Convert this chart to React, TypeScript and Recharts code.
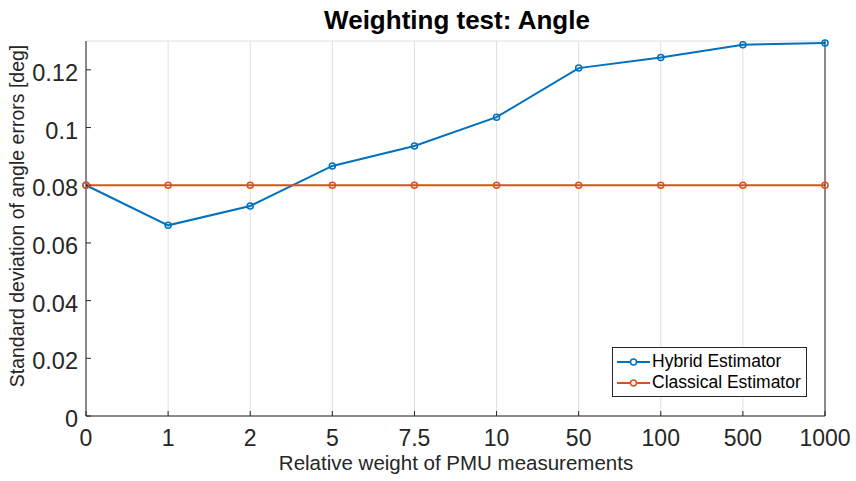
import { LineChart, Line, XAxis, YAxis, CartesianGrid, Legend } from "recharts";

const weights = ["0", "1", "2", "5", "7.5", "10", "50", "100", "500", "1000"];
const hybrid = [0.08, 0.0661, 0.0728, 0.0867, 0.0936, 0.1036, 0.1206, 0.1243, 0.1287, 0.1293];
const classical = [0.08, 0.08, 0.08, 0.08, 0.08, 0.08, 0.08, 0.08, 0.08, 0.08];
const yTicks = [0, 0.02, 0.04, 0.06, 0.08, 0.1, 0.12];

const BLUE = "#0072BD";
const ORANGE = "#D95319";
const AXIS = "#262626";
const FONT = "'Liberation Sans', Arial, Helvetica, sans-serif";

const data = weights.map((w, i) => ({ w, hybrid: hybrid[i], classical: classical[i] }));

const series = [
  { key: "hybrid", name: "Hybrid Estimator", color: BLUE },
  { key: "classical", name: "Classical Estimator", color: ORANGE },
];

// tick labels drawn by hand so the baseline sits like MATLAB's
const XTick = (props: any) => (
  <text x={props.x} y={props.y + 30} textAnchor="middle" fill={AXIS} fontSize={23} fontFamily={FONT}>
    {props.payload.value}
  </text>
);

const YTick = (props: any) => (
  <text x={props.x} y={props.y + 11} textAnchor="end" fill={AXIS} fontSize={23.5} fontFamily={FONT}>
    {props.payload.value}
  </text>
);

const LegendBox = () => (
  <div
    style={{
      boxSizing: "border-box",
      width: 195,
      height: 50,
      border: `1px solid ${AXIS}`,
      background: "#fff",
      padding: "3px 0 0 4px",
      fontFamily: FONT,
      fontSize: 17.5,
      color: "#000",
      lineHeight: "21px",
    }}
  >
    {series.map((s) => (
      <div key={s.key} style={{ display: "flex", alignItems: "center", height: 21 }}>
        <svg width={35} height={12} style={{ flex: "none" }}>
          <line x1={0} y1={6} x2={33} y2={6} stroke={s.color} strokeWidth={2} />
          <circle cx={16.5} cy={6} r={3} fill="#fff" stroke={s.color} strokeWidth={1.5} />
        </svg>
        <span style={{ whiteSpace: "nowrap" }}>{s.name}</span>
      </div>
    ))}
  </div>
);

export default function App() {
  return (
    <div style={{ position: "absolute", left: 0, top: 0, width: 856, height: 481, background: "#fff", fontFamily: FONT }}>
      <LineChart width={856} height={481} data={data} margin={{ top: 41, right: 30, left: 0, bottom: 0 }}>
        <CartesianGrid stroke="#e0e0e0" strokeWidth={1} />
        <XAxis
          xAxisId="b"
          dataKey="w"
          height={65}
          interval={0}
          stroke={AXIS}
          tickSize={-5}
          tickMargin={5}
          tick={<XTick />}
        />
        <XAxis
          xAxisId="t"
          dataKey="w"
          orientation="top"
          height={0}
          interval={0}
          stroke={AXIS}
          tickSize={-5}
          tickFormatter={() => ""}
        />
        <YAxis
          yAxisId="l"
          width={86}
          domain={[0, 0.13]}
          ticks={yTicks}
          interval={0}
          stroke={AXIS}
          tickSize={-5}
          tickMargin={13}
          tick={<YTick />}
        />
        <YAxis
          yAxisId="r"
          orientation="right"
          width={1}
          domain={[0, 0.13]}
          ticks={yTicks}
          interval={0}
          stroke={AXIS}
          tickSize={-5}
          tickFormatter={() => ""}
        />
        {series.map((s) => (
          <Line
            key={s.key}
            xAxisId="b"
            yAxisId="l"
            dataKey={s.key}
            name={s.name}
            stroke={s.color}
            strokeWidth={2}
            dot={{ r: 3, fill: "none", stroke: s.color, strokeWidth: 1.5 }}
            isAnimationActive={false}
            type="linear"
          />
        ))}
        <Legend
          layout="horizontal"
          verticalAlign="middle"
          content={<LegendBox />}
          wrapperStyle={{ position: "absolute", left: 612, top: 347, width: 195, height: 50 }}
        />
      </LineChart>
      <svg
        width={856}
        height={481}
        style={{ position: "absolute", left: 0, top: 0, pointerEvents: "none" }}
        fontFamily={FONT}
      >
        <text x={457} y={29} textAnchor="middle" fontSize={26} fontWeight="bold" fill="#000">
          Weighting test: Angle
        </text>
        <text x={456} y={470} textAnchor="middle" fontSize={20.5} fill={AXIS}>
          Relative weight of PMU measurements
        </text>
        <text transform="translate(24,216) rotate(-90)" textAnchor="middle" fontSize={19.5} fill={AXIS}>
          Standard deviation of angle errors [deg]
        </text>
      </svg>
    </div>
  );
}
